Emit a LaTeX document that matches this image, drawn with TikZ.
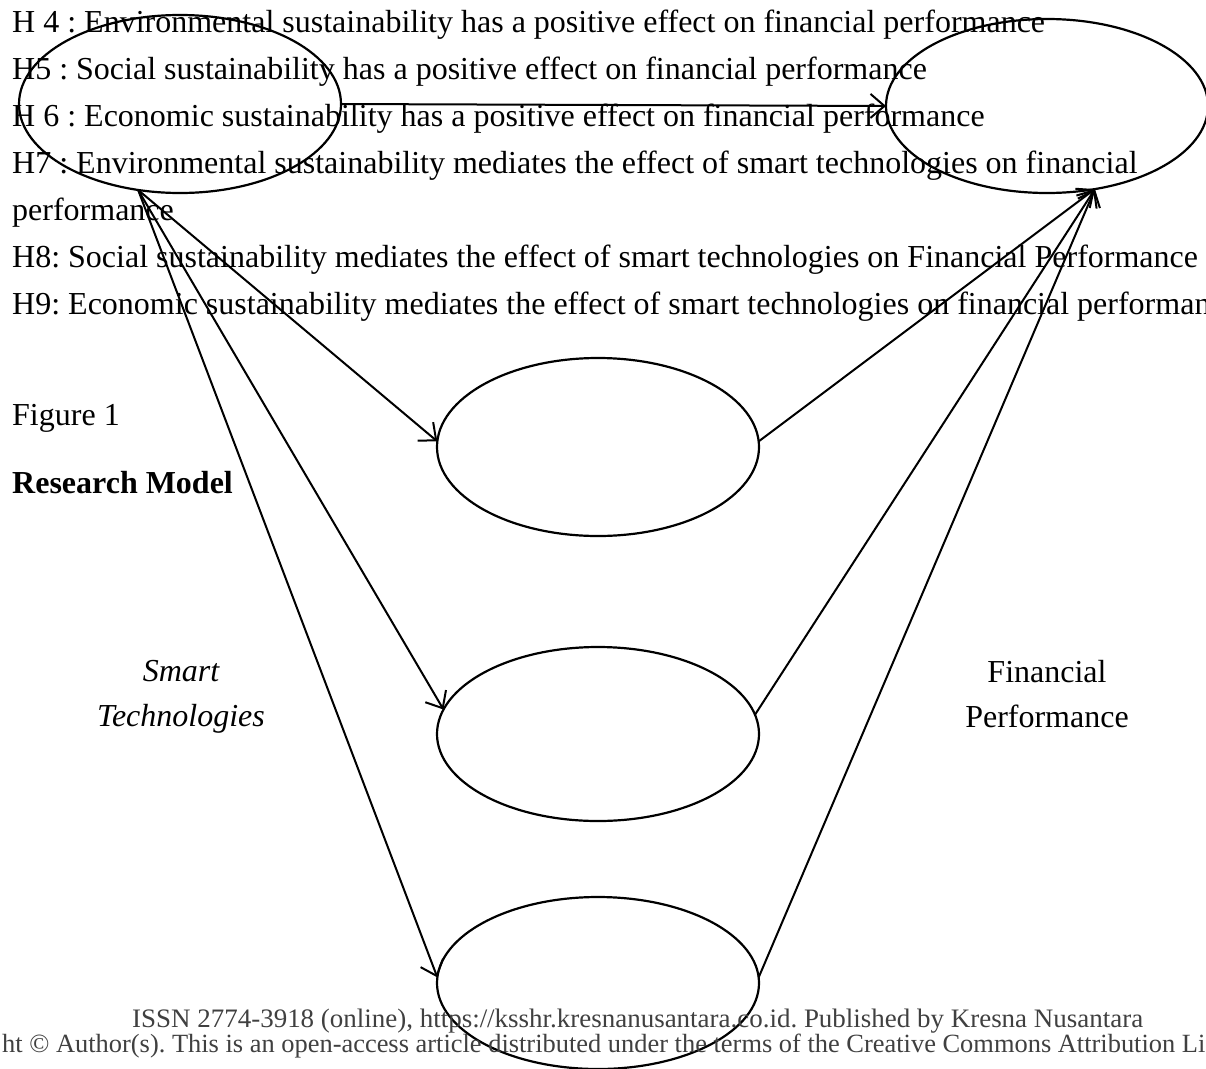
\documentclass[tikz,border=0pt]{standalone}
\usepackage{fontspec}
\setmainfont{Liberation Serif}
\usetikzlibrary{shapes.geometric,arrows.meta}
\definecolor{footgray}{RGB}{64,64,64}
\frenchspacing
\begin{document}
\begin{tikzpicture}[x=1pt,y=-1pt,
  lat/.style={draw=black, line width=2.2pt, ellipse, inner sep=0pt, outer sep=0pt},
  conn/.style={line width=2pt, -{Straight Barb[length=14pt,width=24pt]}},
  txt/.style={anchor=base west, inner sep=0pt, font=\fontsize{32}{38}\selectfont},
  ctxt/.style={anchor=base, inner sep=0pt, font=\fontsize{32}{38}\selectfont},
  foot/.style={anchor=base west, inner sep=0pt, text=footgray, font=\fontsize{27}{30}\selectfont}
]
\useasboundingbox (0,0) rectangle (1206,1068);
\fill[white] (0,0) rectangle (1206,1068);
\clip (0,0) rectangle (1206,1068);

% hypothesis text
\node[txt] (h4) at (12,32) {H 4 : Environmental sustainability has a positive effect on financial performance};
\node[txt] (h5) at (12,79) {H5 : Social sustainability has a positive effect on financial performance};
\node[txt] (h6) at (12,126) {H 6 : Economic sustainability has a positive effect on financial performance};
\node[txt] (h7) at (12,173) {H7 : Environmental sustainability mediates the effect of smart technologies on financial};
\node[txt] (h7b) at (12,220) {performance};
\node[txt] (h8) at (12,267) {H8: Social sustainability mediates the effect of smart technologies on Financial Performance};
\node[txt] (h9) at (12,314) {H9: Economic sustainability mediates the effect of smart technologies on financial performan};

\node[txt] (fig) at (12,425) {Figure 1};
\node[txt, font=\fontsize{32}{38}\selectfont\bfseries] (rm) at (12,493) {Research Model};

% construct labels
\node[ctxt, font=\fontsize{32}{38}\selectfont\itshape] (stl1) at (181,681) {Smart};
\node[ctxt, font=\fontsize{32}{38}\selectfont\itshape] (stl2) at (181,726) {Technologies};
\node[ctxt] (fpl1) at (1047,682) {Financial};
\node[ctxt] (fpl2) at (1047,727) {Performance};

% ellipses
\node[lat, minimum width=322pt, minimum height=178pt] (st) at (180,104) {};
\node[lat, minimum width=322pt, minimum height=174pt] (fp) at (1047,106) {};
\node[lat, minimum width=322pt, minimum height=178pt] (m1) at (598,447) {};
\node[lat, minimum width=322pt, minimum height=174pt] (m2) at (598,734) {};
\node[lat, minimum width=322pt, minimum height=172pt] (m3) at (598,983) {};

% connectors
\draw[conn] (st.east) -- (fp.west);
\draw[conn] (st.244) -- (m1.178);
\draw[conn] (st.244) -- (m2.171);
\draw[conn] (st.244) -- (m3.178);
\draw[conn] (m1.2) -- (fp.300);
\draw[conn] (m2.7) -- (fp.300);
\draw[conn] (m3.2) -- (fp.300);

% footer
\node[foot] (f1) at (132,1027) {\resizebox{1011pt}{18.5pt}{ISSN 2774-3918 (online), https://ksshr.kresnanusantara.co.id. Published by Kresna Nusantara}};
\node[foot] (f2) at (2,1052) {\resizebox{1203pt}{18.5pt}{ht © Author(s). This is an open-access article distributed under the terms of the Creative Commons Attribution Li}};
\end{tikzpicture}
\end{document}
